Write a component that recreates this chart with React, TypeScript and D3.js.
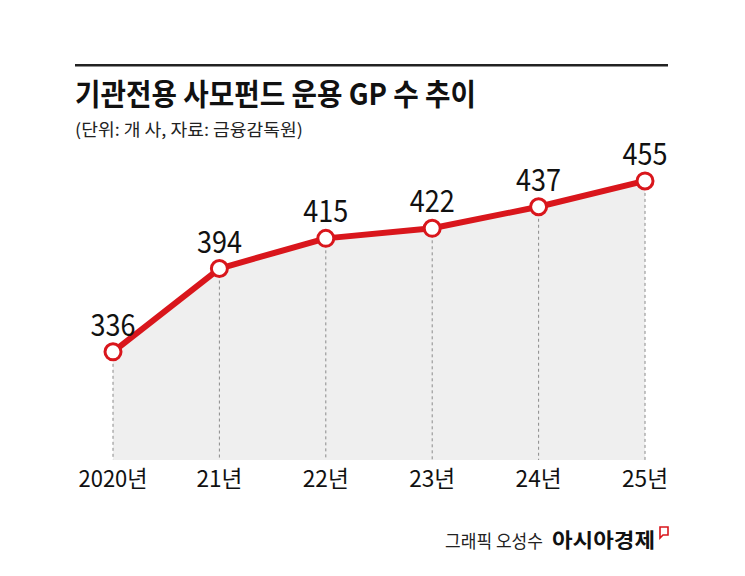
import * as d3 from "d3";

// 기관전용 사모펀드 운용 GP 수 (단위: 개 사)
const years = ["2020년", "21년", "22년", "23년", "24년", "25년"];
const counts = [336, 394, 415, 422, 437, 455];

const W = 745;
const H = 576;
const RED = "#d9161c";
const KR = "'Noto Sans CJK KR', 'Noto Sans', sans-serif";

export default function App() {
  const x = d3.scalePoint<string>().domain(years).range([113, 645]);
  const y = d3.scaleLinear().domain([260, 480]).range([461, 145]);
  const base = 460;

  const pts = years.map((yr, i) => ({ yr, v: counts[i], px: x(yr) ?? 0, py: y(counts[i]) }));

  const line = d3
    .line<(typeof pts)[number]>()
    .x((d) => d.px)
    .y((d) => d.py);
  const area = d3
    .area<(typeof pts)[number]>()
    .x((d) => d.px)
    .y0(base)
    .y1((d) => d.py);

  return (
    <div style={{ position: "absolute", left: 0, top: 0 }}>
      <svg width={W} height={H} style={{ display: "block", background: "#fff" }}>
        {/* header */}
        <rect x={75} y={64} width={593} height={2.5} fill="#222" />
        <text
          x={75}
          y={105}
          fontFamily={KR}
          fontWeight={700}
          fontSize={30}
          fill="#111"
          textLength={401}
          lengthAdjust="spacingAndGlyphs"
        >
          기관전용 사모펀드 운용 GP 수 추이
        </text>
        <text
          x={75}
          y={136}
          fontFamily={KR}
          fontSize={17}
          fill="#222"
          textLength={228}
          lengthAdjust="spacingAndGlyphs"
        >
          (단위: 개 사, 자료: 금융감독원)
        </text>

        {/* gray area under the line */}
        <path d={area(pts) ?? ""} fill="#efefef" />

        {/* dashed guides */}
        {pts.map((d) => (
          <line
            key={"g" + d.yr}
            x1={d.px}
            x2={d.px}
            y1={d.py}
            y2={base}
            stroke="#8a8a8a"
            strokeWidth={1}
            strokeDasharray="3,3"
          />
        ))}

        <path d={line(pts) ?? ""} fill="none" stroke={RED} strokeWidth={6} strokeLinejoin="round" />

        {pts.map((d) => (
          <g key={"p" + d.yr}>
            <circle cx={d.px} cy={d.py} r={8} fill="#fff" stroke={RED} strokeWidth={3} />
            <text
              x={d.px}
              y={d.py - 16}
              textAnchor="middle"
              fontFamily={KR}
              fontSize={30}
              fill="#111"
              textLength={45}
              lengthAdjust="spacingAndGlyphs"
            >
              {d.v}
            </text>
          </g>
        ))}

        {/* x labels */}
        {pts.map((d, i) => (
          <text
            key={"x" + d.yr}
            x={d.px}
            y={487}
            textAnchor="middle"
            fontFamily={KR}
            fontSize={23}
            fill="#111"
            textLength={i === 0 ? 69 : 46}
            lengthAdjust="spacingAndGlyphs"
          >
            {d.yr}
          </text>
        ))}

        {/* credit */}
        <text
          x={445}
          y={548}
          fontFamily={KR}
          fontSize={18}
          fill="#222"
          textLength={98}
          lengthAdjust="spacingAndGlyphs"
        >
          그래픽 오성수
        </text>
        <text
          x={552}
          y={548}
          fontFamily={KR}
          fontWeight={700}
          fontSize={20}
          fill="#111"
          textLength={103}
          lengthAdjust="spacingAndGlyphs"
        >
          아시아경제
        </text>
        <path d="M660,527 L668,527 L668,535 L663,535 L660,538 Z" fill="none" stroke={RED} strokeWidth={1.6} />
      </svg>
    </div>
  );
}
